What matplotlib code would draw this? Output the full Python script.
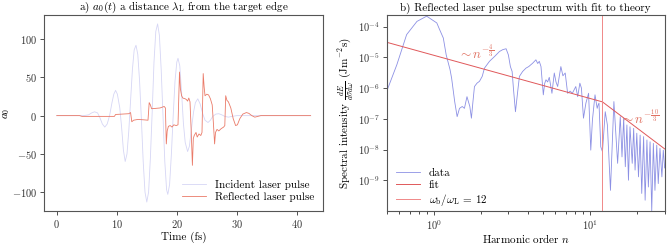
import matplotlib
matplotlib.use('Agg')
import matplotlib.pyplot as plt
import numpy as np

plt.rcParams['font.family'] = 'serif'
plt.rcParams['font.serif'] = ['cmr10', 'DejaVu Serif']
plt.rcParams['mathtext.fontset'] = 'cm'
plt.rcParams['axes.formatter.use_mathtext'] = True
plt.rcParams['font.size'] = 8
plt.rcParams['axes.unicode_minus'] = True

# ---- panel a: field at a distance lambda_L from target edge ----
t_inc = [0.0, 4.5, 5.3, 5.8, 6.3, 6.8, 7.2, 7.6, 8.0, 8.4, 8.8, 9.2, 9.5, 9.8, 10.1,
         10.5, 10.8, 11.1, 11.4, 11.7, 12.0, 12.3, 12.6, 12.9, 13.2, 13.5, 13.8, 14.1,
         14.4, 14.7, 15.0, 15.3, 15.6, 15.9, 16.2, 16.5, 16.8, 17.1, 17.4, 17.7, 18.0,
         18.3, 18.5, 18.8, 19.1, 19.4, 19.7, 20.0, 20.2, 20.5, 20.8, 21.1, 21.4, 21.8,
         22.1, 22.4, 22.8, 23.1, 23.5, 23.9, 24.3, 24.7, 25.2, 25.6, 26.0, 26.5, 27.0,
         27.5, 28.0, 28.6, 29.2, 30.0, 42.3]
a_inc = [0, 0, 1, 3.5, 5, 3.5, -3, -11, -15, -11, 0, 17, 28, 33, 28,
         10, -15, -45, -60, -50, -20, 20, 60, 86, 92, 80, 45, -5,
         -60, -100, -113, -100, -55, 5, 70, 110, 120, 105, 60, 0, -60,
         -97, -103, -90, -50, 0, 45, 70, 75, 65, 30, -10, -35, -47,
         -40, -20, 5, 17, 22, 15, 3, -6, -9, -6, -1, 2, 2.5,
         1, -1, -2, -1, 0, 0]

t_ref = [0.0, 3.8, 4.2, 9.6, 9.8, 12.0, 12.3, 12.5, 12.8, 13.5, 14.5, 15.2, 15.4, 15.6,
         15.8, 16.5, 17.2, 17.9, 18.1, 18.25, 18.4, 18.6, 18.9, 19.2, 19.5, 19.9, 20.2,
         20.45, 20.6, 20.8, 21.0, 21.4, 21.6, 21.8, 22.0, 22.2, 22.4, 22.6, 22.75, 22.9,
         23.2, 23.4, 23.7, 24.0, 24.2, 24.4, 24.55, 24.7, 25.0, 25.3, 25.6, 25.9, 26.1,
         26.3, 26.45, 26.7, 27.0, 27.4, 27.8, 28.0, 28.15, 28.35, 28.6, 29.0, 29.4, 29.8,
         30.1, 30.5, 31.0, 31.6, 32.0, 32.5, 33.0, 33.5, 34.0, 42.3]
a_ref = [0, 0, -1, -1, 1.5, 2.5, 4, -8, -6, -5, -5.5, -6, 17, 14,
         9, 9.5, 10, 12, 10, -37, -20, -14, -13, -15, -12, -13, -12,
         57, 35, 26, 23, 22, 21, 19, 23, 18, -20, -65, -30, -26,
         -22, -28, -24, -26, -22, 55, 38, 26, 28, 27, 22, 14, -10,
         -37, -22, -18, -20, -17, -15, -13, 26, 20, 18, 10, -4, -13,
         -12, -4, 2, 4, 3, 0, -2, -1, 0, 0]

# ---- panel b: reflected spectrum (harmonic order, log10 intensity) ----
n_data = [0.50, 0.58, 0.67, 0.78, 0.90, 1.045, 1.09, 1.15, 1.20, 1.27, 1.30, 1.36, 1.41,
          1.46, 1.52, 1.57, 1.63, 1.70, 1.74, 1.78, 1.82, 1.89, 1.96, 2.04, 2.11, 2.27,
          2.45, 2.63, 2.76, 2.90, 3.00, 3.09, 3.17, 3.23, 3.33, 3.45, 3.53, 3.70, 3.89,
          4.05, 4.29, 4.50, 4.62, 4.73, 4.85, 5.02, 5.12, 5.22, 5.35, 5.48, 5.70, 5.90,
          6.05, 6.20, 6.50, 6.70, 6.93, 7.18, 7.45, 7.70, 8.10, 8.33, 8.60, 8.80, 9.07,
          9.40, 9.78, 10.1, 10.35, 10.75, 11.1, 11.25, 11.4, 11.7, 12.0, 12.5, 12.9,
          13.5, 14.2, 15.0, 15.6, 16.0, 16.4, 16.8, 17.2, 17.6, 18.0, 18.6, 19.0, 19.4,
          19.9, 20.4, 20.9, 21.4, 22.0, 22.5, 23.1, 23.6, 24.2, 24.8, 25.4, 26.0, 26.7,
          27.3, 28.0, 28.8, 29.4, 30.0]
logI_data = [-6.10, -5.24, -4.26, -3.83, -3.66, -3.88, -4.10, -4.37, -4.92, -5.40, -5.68,
             -6.44, -6.93, -6.66, -6.60, -6.66, -6.28, -6.60, -6.98, -6.44, -5.95, -5.84,
             -5.78, -5.62, -5.35, -5.13, -4.97, -4.81, -4.75, -4.72, -4.92, -5.30, -5.46,
             -6.00, -6.77, -6.06, -5.62, -5.46, -5.35, -5.30, -5.19, -5.08, -5.20, -5.13,
             -5.30, -6.22, -5.85, -5.73, -5.80, -5.65, -6.17, -5.51, -5.80, -5.95, -5.30,
             -5.60, -5.51, -6.17, -6.10, -6.17, -5.95, -6.28, -5.84, -6.00, -6.98, -6.49,
             -6.17, -8.02, -7.04, -6.22, -6.66, -6.55, -6.49, -7.91, -8.07, -6.77, -7.20,
             -9.33, -6.44, -8.45, -6.93, -8.24, -6.98, -8.56, -7.20, -9.00, -7.26, -8.45,
             -7.31, -8.67, -7.47, -8.89, -7.53, -9.43, -7.58, -9.65, -7.69, -9.22, -7.75,
             -10.0, -7.80, -9.33, -7.86, -9.11, -7.96, -8.89, -8.02, -8.60]

n_fit = [0.5, 12.0, 30.0]
logI_fit = [-4.51, -6.45, -7.98]
n_break = 12

fig = plt.figure(figsize=(6.68, 2.45), dpi=100)
ax1 = fig.add_axes([0.066, 0.139, 0.418, 0.80])
ax2 = fig.add_axes([0.579, 0.139, 0.416, 0.80])

grey = '#555555'
for ax in (ax1, ax2):
    for s in ax.spines.values():
        s.set_color(grey)
        s.set_linewidth(0.8)
    ax.tick_params(colors='#333333', labelsize=7.5, width=0.6, length=3, pad=2)
    ax.tick_params(which='minor', length=1.8, width=0.5)

ax1.plot(t_inc, a_inc, color='#d6d6f5', lw=0.6, label='Incident laser pulse')
ax1.plot(t_ref, a_ref, color='#ea7a68', lw=0.6, label='Reflected laser pulse')
ax1.set_yticks([-100, -50, 0, 50, 100])
ax1.set_xticks([0, 10, 20, 30, 40])
ax1.set_xlabel('Time (fs)', fontsize=8, labelpad=1)
ax1.set_ylabel('$a_0$', fontsize=8)
ax1.yaxis.set_label_coords(-0.115, 0.5)
ax1.set_title(r'a) $a_0(t)$ a distance $\lambda_{\rm L}$ from the target edge',
              fontsize=8, pad=3)
ax1.legend(loc='lower right', frameon=False, fontsize=8, labelspacing=0.2,
           handlelength=2.2, borderaxespad=0.4)

ax2.plot(n_data, 10.0 ** np.array(logI_data), color='#8c90e4', lw=0.6, label='data')
ax2.plot(n_fit, 10.0 ** np.array(logI_fit), color='#e0585a', lw=0.7, label='fit')
ax2.axvline(n_break, color='#f08888', lw=0.7,
            label=r'$\omega_{\rm b}/\omega_{\rm L}$ = 12')
ax2.set_xscale('log')
ax2.set_yscale('log')
ax2.set_xlim(0.5, 30)
ax2.set_ylim(1e-10, 2.4e-4)
ax2.set_yticks([1e-9, 1e-8, 1e-7, 1e-6, 1e-5, 1e-4])
ax2.yaxis.set_minor_locator(matplotlib.ticker.NullLocator())
ax2.text(1.42, 10 ** -5.05, r'$\sim n^{-\frac{4}{3}}$', color='#e07060', fontsize=9.5)
ax2.text(15.5, 10 ** -7.15, r'$\sim n^{-\frac{10}{3}}$', color='#e07060', fontsize=9.5)
ax2.set_xlabel('Harmonic order $n$', fontsize=8, labelpad=0)
ax2.set_ylabel(r'Spectral intensity $\frac{dE}{d\sigma d\omega}$ (Jm$^{-2}$s)',
               fontsize=8, labelpad=1)
ax2.set_title('b) Reflected laser pulse spectrum with fit to theory', fontsize=8, pad=3)
ax2.legend(loc='lower left', bbox_to_anchor=(0.0, -0.03), frameon=False, fontsize=8,
           labelspacing=0.2, handlelength=2.2, borderaxespad=0.4)

fig.savefig('out.png', dpi=100)
